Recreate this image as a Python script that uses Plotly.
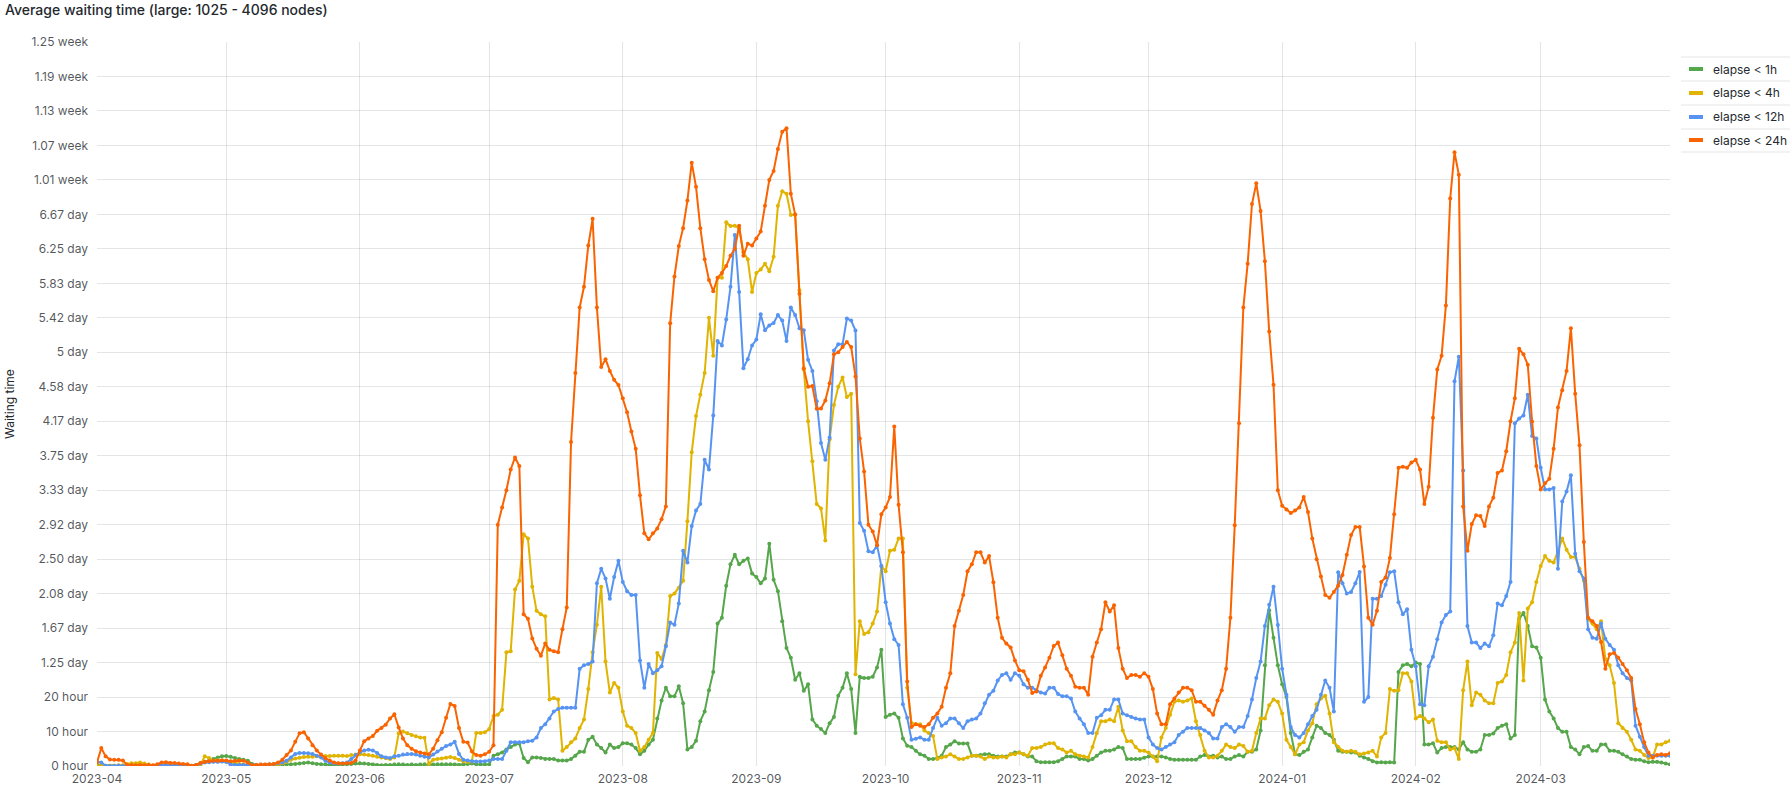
import plotly.graph_objects as go
import pandas as pd

# ---------------- data (hours, one value per day) ----------------
START = "2023-04-01"
END = "2024-03-31"
dates = pd.date_range(START, END, freq="D")

SERIES_NAMES = ["elapse < 1h", "elapse < 4h", "elapse < 12h", "elapse < 24h"]
SERIES_COLORS = ["#56A64B", "#E0B400", "#5794F2", "#FA6400"]

elapse_1h = [
    # Apr
    0.3, 0.2, 0.1, 0.1, 0.1, 0.1, 0.1, 0.2, 0.2, 0.3, 0.2, 0.2, 0.1, 0.1, 0.2, 0.2, 0.2, 0.1, 0.1, 0.1,
    0.1, 0.1, 0.1, 0.3, 0.8, 1.2, 1.5, 2.0, 2.5, 2.8,
    # May
    2.9, 2.7, 2.3, 2.0, 1.8, 1.5, 0.6, 0.3, 0.3, 0.3, 0.3, 0.3, 0.3, 0.4, 0.5, 0.5, 0.6, 0.7, 0.9, 1.0,
    0.8, 0.6, 0.5, 0.4, 0.3, 0.3, 0.3, 0.4, 0.5, 0.6, 0.7,
    # Jun
    0.8, 0.7, 0.6, 0.4, 0.3, 0.2, 0.3, 0.3, 0.4, 0.5, 0.4, 0.3, 0.4, 0.3, 0.4, 0.5, 0.5, 0.4, 0.5, 0.5,
    0.5, 0.5, 0.4, 0.3, 0.4, 0.6, 0.7, 0.5, 0.4, 0.4,
    # Jul
    0.5, 3.0, 3.4, 3.9, 4.8, 5.5, 6.2, 6.5, 2.3, 1.1, 2.5, 2.5, 2.3, 2.0, 2.0, 2.0, 1.6, 1.6, 1.6, 2.0,
    3.0, 4.1, 4.1, 7.6, 8.5, 6.2, 5.2, 3.9, 6.2, 5.2, 5.5,
    # Aug
    6.6, 6.6, 6.2, 5.2, 3.4, 4.4, 6.2, 7.6, 13.8, 19, 22.7, 20.2, 20.2, 23.1, 18.2, 4.8, 5.5, 7.3, 13, 15.8,
    22, 27.3, 41.3, 43, 52.3, 58.5, 61.3, 58.5, 59.5, 60.2, 55.8,
    # Sep
    54.8, 53, 54.4, 64.5, 54, 50.7, 42, 34.2, 31.4, 25, 26.9, 21.8, 23.7, 13.5, 11.7, 10.7, 9.6, 12.4, 14.2, 20.4,
    22.7, 26.9, 22.3, 9.6, 25.9, 25.5, 25.5, 25.9, 28.6, 33.7,
    # Oct
    14.2, 14.9, 15.2, 14, 8, 5.9, 5.5, 4.4, 3.4, 3.0, 2.0, 2.0, 2.3, 3.0, 5.5, 6.2, 7.2, 6.5, 6.5, 6.5,
    3.0, 3.0, 3.2, 3.4, 3.4, 3.0, 2.75, 2.75, 2.75, 3.4, 3.9,
    # Nov
    3.9, 3.4, 2.75, 2.75, 1.4, 1.1, 1.1, 1.1, 1.1, 1.4, 2.0, 2.75, 2.75, 2.75, 2.0, 2.0, 1.6, 2.0, 3.0, 3.9,
    4.4, 4.4, 4.8, 5.5, 5.2, 2.0, 2.0, 2.0, 2.0, 2.4,
    # Dec
    2.75, 2.75, 2.75, 2.75, 2.5, 2.0, 1.8, 1.8, 1.8, 1.8, 1.8, 1.8, 2.75, 3.2, 2.75, 3.0, 2.5, 2.75, 2.0, 2.0,
    2.75, 3.2, 2.75, 4.1, 4.1, 4.8, 10.3, 29.2, 45.2, 37.2, 29.2,
    # Jan
    23.7, 20, 9.6, 3.4, 3.2, 4.1, 4.8, 8.3, 11.7, 11, 9.6, 9, 7.6, 4.4, 4.1, 4.1, 3.9, 3.9, 3.0, 2.5,
    2.0, 1.4, 1.0, 1.1, 1.0, 1.1, 1.0, 27.3, 29.2, 29.6, 28.9,
    # Feb
    30, 29.6, 6.2, 6.2, 6.6, 3.9, 5.2, 5.5, 5.5, 5.5, 4.8, 6.9, 4.8, 4.1, 4.1, 4.8, 9, 9, 9.4, 11,
    11.7, 12.1, 8, 9, 42.7, 44.4, 40.6, 34.7, 34.4,
    # Mar
    31.4, 19.3, 15.8, 13.8, 11, 9.9, 9.9, 5.5, 4.8, 3.4, 5.5, 5.8, 4.4, 4.4, 6.2, 6.2, 4.4, 4.4, 4.1, 3.4,
    2.75, 2.0, 1.8, 1.8, 1.4, 1.1, 1.2, 1.2, 1.0, 0.7, 0.4,
]

elapse_4h = [
    # Apr
    0.1, 0.1, 0.0, 0.1, 0.1, 0.2, 0.2, 0.6, 0.8, 0.8, 1.0, 0.7, 0.4, 0.1, 0.2, 0.3, 0.2, 0.3, 0.2, 0.2,
    0.1, 0.1, 0.0, 0.1, 0.3, 2.8, 2.3, 1.5, 1.7, 1.5,
    # May
    1.2, 1.0, 0.8, 0.5, 0.3, 0.2, 0.1, 0.2, 0.2, 0.3, 0.3, 0.4, 0.5, 0.8, 1.2, 1.8, 2.2, 2.4, 2.6, 2.7,
    2.7, 2.8, 2.8, 2.9, 2.9, 3.0, 3.0, 3.0, 2.9, 3.2, 3.3,
    # Jun
    3.4, 3.3, 3.2, 3.0, 2.7, 2.5, 2.3, 2.0, 2.5, 9.5, 10.0, 9.5, 9.0, 8.6, 8.3, 8.2, 0.6, 1.8, 2.0, 2.2,
    2.4, 2.6, 2.3, 1.8, 1.4, 1.2, 1.3, 9.6, 9.6, 9.8,
    # Jul
    10.7, 14.5, 14.9, 16.3, 33, 33.3, 51.2, 53.7, 67.2, 66, 52, 45, 44, 43.4, 19.3, 19.7, 19.3, 4.4, 5.5, 6.9,
    8, 11, 13.5, 22.3, 33, 41, 52, 30.3, 21.3, 24.1, 22.7,
    # Aug
    15.8, 11.7, 11, 9.6, 4.4, 5.5, 7.6, 9.6, 32.8, 31, 35.1, 49.3, 50, 51.7, 53.7, 71, 91, 101.5, 107.7, 114,
    130, 119, 141.6, 141.6, 157.7, 156.6, 156.7, 156, 149, 147, 137.5,
    # Sep
    143, 144, 145.7, 143.5, 147.7, 162.5, 166.7, 166, 159.8, 160, 138, 115, 100, 88.4, 76, 74.7, 65.4, 94.8, 104.7, 110,
    112.7, 107, 108, 26.6, 42, 38.3, 38.8, 41.3, 44.8, 58,
    # Oct
    56.5, 62.4, 62.7, 66, 66, 22.7, 12.5, 12.1, 12.1, 10.3, 9.6, 8.7, 2.0, 2.5, 2.75, 3.4, 2.75, 2.0, 2.0, 2.5,
    3.0, 3.0, 2.75, 2.0, 2.75, 2.5, 2.5, 2.75, 2.5, 3.4, 3.4,
    # Nov
    3.9, 3.4, 3.0, 5.2, 5.2, 5.5, 6.2, 6.6, 6.6, 5.2, 4.8, 3.9, 4.4, 3.4, 3.0, 2.75, 2.5, 5.5, 9.6, 13,
    13, 13.5, 13, 17.2, 10.3, 7.2, 7.2, 5.5, 4.4, 4.4,
    # Dec
    3.9, 2.75, 1.4, 8.3, 11, 14.9, 18.6, 19, 18.6, 19, 19.6, 13, 9, 4.4, 2.5, 2.5, 3.0, 4.4, 6.2, 5.5,
    5.2, 6.2, 5.8, 4.1, 4.4, 9.6, 13.8, 13.8, 17.6, 19.3, 18.6,
    # Jan
    15.2, 7.6, 5.5, 3.4, 6.2, 6.9, 10.3, 12.4, 17.9, 19.6, 20.4, 15.2, 6.9, 5.5, 4.4, 4.1, 4.4, 4.1, 3.4, 3.6,
    3.9, 4.4, 2.75, 8.3, 9.6, 22.3, 21.8, 22, 26.9, 26.9, 24.5,
    # Feb
    13.8, 14.5, 13.8, 12.7, 13.5, 7.3, 6.9, 6.9, 4.8, 5.2, 2.0, 22, 30.3, 17.6, 21.3, 20.7, 19, 18.2, 18.2, 24.1,
    24.5, 26.4, 33, 35.8, 44.4, 24.8, 45.7, 47.5, 53.4,
    # Mar
    58, 60.9, 59.5, 59, 62.3, 66, 62.7, 60.6, 60.6, 57.2, 53.7, 42.7, 41.3, 39.7, 42, 31, 29.2, 24.1, 12.4, 11,
    9.9, 7.6, 4.8, 4.4, 3.2, 2.3, 2.5, 6.2, 6.2, 6.9, 7.3,
]

elapse_12h = [
    # Apr
    1.2, 1.0, 0.1, 0.0, 0.0, 0.1, 0.0, 0.0, 0.1, 0.0, 0.0, 0.1, 0.0, 0.0, 0.1, 0.3, 0.4, 0.3, 0.2, 0.1,
    0.1, 0.0, 0.0, 0.2, 0.7, 1.0, 1.1, 1.2, 1.2, 1.3,
    # May
    1.2, 0.4, 0.3, 0.3, 0.3, 0.3, 0.2, 0.2, 0.3, 0.3, 0.4, 0.5, 0.8, 1.0, 1.5, 2.5, 3.5, 3.8, 3.8, 3.7,
    3.5, 3.0, 2.5, 1.5, 1.0, 0.8, 0.7, 0.8, 1.0, 2.0, 3.2,
    # Jun
    4.0, 4.5, 4.7, 4.5, 3.8, 2.8, 2.5, 2.3, 2.8, 3.0, 3.3, 3.5, 3.5, 3.3, 3.0, 2.7, 2.5, 3.3, 4.2, 5.0,
    5.8, 6.2, 7.0, 3.5, 1.8, 1.6, 1.4, 1.3, 1.3, 1.4,
    # Jul
    1.6, 2.0, 2.0, 2.0, 4.4, 6.9, 6.9, 6.9, 6.9, 7.2, 7.3, 8.3, 11, 12.1, 13.8, 15.8, 16.5, 16.9, 16.9, 16.9,
    16.9, 28.2, 29.2, 29.6, 30.3, 53, 57.2, 54.4, 48.5, 54.8, 59.5,
    # Aug
    53.4, 50.7, 49.6, 49.6, 30.6, 22.7, 29.6, 26.9, 27.8, 28.9, 34.7, 41.6, 41, 47.1, 62.4, 59, 69.6, 74.1, 76, 88.8,
    86, 101.7, 123.3, 122, 129.5, 139, 154, 137.5, 115.4, 118, 122,
    # Sep
    123.7, 131, 126.4, 127.8, 128.5, 130.8, 129.2, 123.3, 133, 130.8, 127, 126.4, 117.8, 114.6, 105.8, 93.7, 88.8, 95.3, 120.5, 122.3,
    122.3, 129.8, 129.2, 126.3, 70.5, 68.2, 62.3, 62, 64, 58,
    # Oct
    47.5, 41.3, 36.8, 35.1, 17.9, 14, 7.6, 7.9, 8.3, 7.6, 7.6, 11, 14, 11.7, 12.4, 13.8, 13.8, 12.4, 11, 13,
    13.5, 13.8, 15.2, 18.2, 20.7, 21.8, 24.8, 26.4, 26.9, 25, 26.9,
    # Nov
    26.2, 23.7, 22.7, 22.7, 22, 21.3, 21, 22.7, 22.7, 20.9, 20.2, 20.2, 19.6, 15.8, 13.8, 12.1, 9.6, 9.6, 14, 14.7,
    16.3, 16.3, 19.3, 19.3, 15.2, 14.7, 14.2, 13.8, 13.5, 13.5,
    # Dec
    8.3, 6.2, 5.2, 4.8, 5.5, 6.2, 6.9, 9, 9.9, 11, 11, 11, 11, 10.3, 9.6, 8, 8, 11.3, 12.1, 11.3,
    9.9, 11.3, 11.3, 14.5, 19.3, 25.5, 30.3, 40.6, 46.8, 52, 40.9,
    # Jan
    28.2, 20.7, 11.3, 9, 8.3, 9.6, 12.1, 14.5, 16.3, 20.7, 24.8, 22.7, 15.8, 56.2, 53, 50, 50.5, 53, 56.3, 18.6,
    20, 48.5, 48.5, 49.3, 52.6, 56.2, 56.5, 47.5, 44, 45.5, 33.7,
    # Feb
    28.9, 17.9, 17.6, 28.9, 31.7, 36.8, 41.6, 43.8, 44.8, 111.6, 118.7, 85.7, 40.6, 35.8, 35.8, 34.2, 35.5, 34.7, 37.9, 47.1,
    46.6, 49.3, 53.4, 99.4, 100.8, 101.7, 107.7, 95.7, 95,
    # Mar
    86.5, 80.2, 80.2, 80.6, 57.2, 76.7, 79.6, 84.3, 61.6, 56.5, 54.4, 39.7, 37.2, 36.9, 41.3, 36.9, 35.1, 33.7, 29.2, 26.9,
    25.5, 24.8, 11.7, 8.5, 5.5, 3.0, 3.0, 3.0, 3.0, 3.0, 3.0,
]

elapse_24h = [
    # Apr
    1.0, 5.2, 2.8, 1.9, 1.8, 1.8, 1.6, 0.3, 0.3, 0.2, 0.3, 0.2, 0.3, 0.2, 0.5, 1.0, 1.1, 0.9, 0.9, 0.7,
    0.6, 0.5, 0.1, 0.3, 0.9, 1.2, 1.4, 1.5, 1.5, 1.7,
    # May
    1.6, 1.4, 1.5, 1.6, 1.5, 1.0, 0.2, 0.3, 0.4, 0.4, 0.5, 0.6, 1.0, 1.8, 3.2, 4.5, 7.0, 9.5, 9.8, 8.0,
    6.0, 4.5, 3.3, 2.3, 1.6, 1.0, 0.8, 0.7, 0.8, 0.9, 1.6,
    # Jun
    4.5, 7.2, 8.0, 8.7, 10.2, 11.0, 12.0, 13.8, 15.0, 11.2, 8.0, 6.0, 5.0, 4.3, 3.9, 3.6, 3.4, 5.0, 7.5, 9.8,
    14.0, 18.0, 17.4, 11.0, 7.0, 6.8, 4.2, 3.2, 3.0, 3.4,
    # Jul
    4.1, 6.0, 70, 75, 80, 86, 89.5, 87, 44, 42.7, 37, 34, 32, 35.5, 33.7, 33.3, 33, 39.7, 46, 94,
    114, 133, 139, 151, 158.7, 133, 115.7, 118, 114.6, 112, 110.5,
    # Aug
    106.7, 102.6, 97, 92, 78.5, 67.5, 65.8, 67.5, 68.9, 71.6, 75.3, 128.4, 142, 150.8, 156, 164, 175, 168, 156, 147,
    141, 137.7, 141.6, 143, 145, 148, 150, 156.7, 148, 151.5, 151,
    # Sep
    153, 155, 162.5, 170, 172.6, 179, 184, 185, 166, 160, 137, 115.4, 110, 110.2, 103.6, 103.7, 106, 111, 119.4, 120,
    121.5, 123, 121.5, 113, 95, 85.4, 70, 68, 64, 73,
    # Oct
    75, 78, 98.5, 75.8, 62, 24.5, 11.3, 12.1, 11.7, 11.3, 12.1, 14, 15.2, 17.2, 22.7, 26.9, 40.6, 45, 49.6, 56.5,
    58.5, 62, 62, 59, 60.9, 53.3, 43, 37.2, 35.5, 34.4, 30.6,
    # Nov
    27.8, 27.5, 25, 21.2, 21.6, 26.2, 28.6, 31.4, 34.8, 35.8, 32.1, 28.2, 26.2, 23, 22.7, 22.7, 20.7, 31.7, 35.8, 39.7,
    47.5, 44.8, 46.6, 34.2, 28.2, 25.5, 26.4, 26.4, 25.9, 26.9,
    # Dec
    25.9, 22.3, 15.2, 12.1, 12.1, 17.9, 19.6, 21.3, 22.7, 22.7, 22, 18.6, 18.6, 17.5, 16.3, 14.9, 19, 22, 28.2, 43,
    69.8, 99.4, 133, 145.7, 163, 169, 161, 146.4, 126, 110.6, 80,
    # Jan
    75.5, 74.4, 73.4, 74.1, 75, 78, 73.7, 66, 60, 55, 49.6, 48.8, 50.5, 52.3, 55.4, 61.3, 67, 69.3, 69.3, 57.9,
    43, 41, 45, 53.4, 54.7, 60.3, 73, 86.5, 86.8, 86.5, 88,
    # Feb
    88.8, 86, 76, 81, 101, 115, 119, 133.6, 164.6, 178, 171.5, 75.3, 62.4, 70.2, 72.7, 72.5, 69.6, 75.3, 77.8, 85,
    85.7, 91.3, 100, 106.7, 121, 119.4, 116.4, 99.9, 87,
    # Mar
    80.2, 82, 83.3, 92, 104, 109, 114.6, 127, 108, 93, 65, 43, 42, 40.6, 36, 28.2, 32.4, 32.8, 31.4, 29.6,
    27.8, 25.5, 16.5, 12.1, 6.9, 3.9, 2.5, 3.2, 3.4, 3.2, 3.7,
]

SERIES_VALUES = [elapse_1h, elapse_4h, elapse_12h, elapse_24h]
for vals in SERIES_VALUES:
    assert len(vals) == len(dates), (len(vals), len(dates))

Y_TICK_VALUES = list(range(0, 211, 10))
Y_TICK_TEXT = ["0 hour", "10 hour", "20 hour", "1.25 day", "1.67 day", "2.08 day", "2.50 day",
               "2.92 day", "3.33 day", "3.75 day", "4.17 day", "4.58 day", "5 day", "5.42 day",
               "5.83 day", "6.25 day", "6.67 day", "1.01 week", "1.07 week", "1.13 week",
               "1.19 week", "1.25 week"]
X_TICK_VALUES = pd.date_range("2023-04-01", "2024-03-01", freq="MS")

TITLE = "Average waiting time (large: 1025 - 4096 nodes)"
Y_TITLE = "Waiting time"

# ---------------- style / layout ----------------
W, H = 1790, 787
L, R, T, B = 97, 120, 42, 21
PW, PH = W - L - R, H - T - B
TEXT = "#24292e"
TICK = "rgba(36,41,46,0.78)"
GRID = "rgba(36,41,46,0.12)"
FONT = "Inter, Roboto, sans-serif"


def px(x):
    return (x - L) / PW


def py(y):
    return (H - B - y) / PH


fig = go.Figure()
for name, vals, color in zip(SERIES_NAMES, SERIES_VALUES, SERIES_COLORS):
    fig.add_trace(go.Scatter(
        x=dates, y=vals, name=name, mode="lines+markers",
        line=dict(color=color, width=2),
        marker=dict(color=color, size=4),
    ))

fig.update_layout(
    width=W, height=H,
    margin=dict(l=L, r=R, t=T, b=B, pad=0),
    paper_bgcolor="white", plot_bgcolor="white",
    font=dict(family=FONT, size=12, color=TEXT),
    showlegend=False,
    xaxis=dict(
        type="date", range=[START, END], tickvals=X_TICK_VALUES, tickformat="%Y-%m",
        showgrid=True, gridcolor=GRID, gridwidth=1, zeroline=False, showline=False,
        ticks="", ticklabelstandoff=4, tickfont=dict(size=12, color=TICK), automargin=False,
    ),
    yaxis=dict(
        range=[0, 210], tickvals=Y_TICK_VALUES, ticktext=Y_TICK_TEXT,
        showgrid=True, gridcolor=GRID, gridwidth=1, zeroline=False, showline=False,
        ticks="", ticklabelstandoff=8, tickfont=dict(size=12, color=TICK), automargin=False,
    ),
)

annotations = [
    dict(text=TITLE, x=px(3), y=py(10), xref="paper", yref="paper", xanchor="left",
         yanchor="middle", showarrow=False, font=dict(size=14, color=TEXT, family=FONT, weight=500)),
    dict(text=Y_TITLE, x=px(9), y=py(404), xref="paper", yref="paper", xanchor="center",
         yanchor="middle", textangle=-90, showarrow=False, font=dict(size=12, color=TEXT, family=FONT)),
]
shapes = []

# custom legend (Grafana-style table on the right)
legend_rows = [69, 93, 117, 140]
separators = [57, 81, 105, 129, 152]
for sy in separators:
    shapes.append(dict(type="line", xref="paper", yref="paper", x0=px(1681), x1=px(1790),
                       y0=py(sy), y1=py(sy), line=dict(color=GRID, width=1)))
for name, color, ry in zip(SERIES_NAMES, SERIES_COLORS, legend_rows):
    shapes.append(dict(type="rect", xref="paper", yref="paper", x0=px(1689), x1=px(1703),
                       y0=py(ry + 2), y1=py(ry - 2), fillcolor=color, line=dict(width=0)))
    annotations.append(dict(text=name, x=px(1711), y=py(ry), xref="paper", yref="paper",
                            xanchor="left", yanchor="middle", showarrow=False,
                            font=dict(size=12, color=TEXT, family=FONT)))

fig.update_layout(annotations=annotations, shapes=shapes)

fig.write_html("out.html", config={"displayModeBar": False},
               post_script="document.body.style.margin='0';")
